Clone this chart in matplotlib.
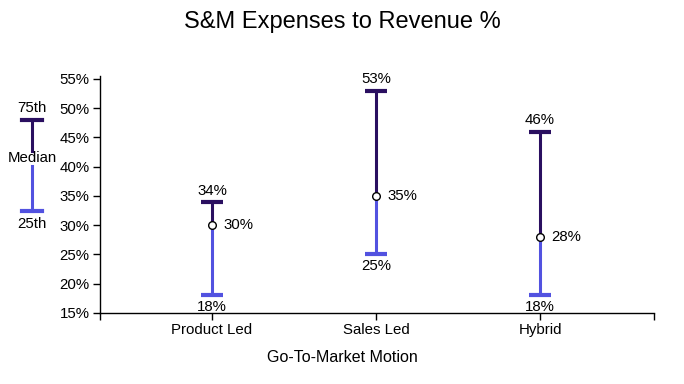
import matplotlib.pyplot as plt
from matplotlib.lines import Line2D

plt.rcParams['font.family'] = ['Liberation Sans', 'DejaVu Sans']

# data
categories = ["Product Led", "Sales Led", "Hybrid"]
p25 = [18, 25, 18]
median = [30, 35, 28]
p75 = [34, 53, 46]
y_ticks = [15, 20, 25, 30, 35, 40, 45, 50, 55]

dark = "#2a0f60"
blue = "#5252e0"
fs = 10.8

fig = plt.figure(figsize=(6.84, 3.84), dpi=100)
ax = fig.add_axes([100 / 684, 1 - 313 / 384, 554 / 684, 237 / 384])

x = list(range(len(categories)))
cap = 0.065
for i in x:
    # lower half (25th -> median) and upper half (median -> 75th)
    ax.plot([i, i], [p25[i], median[i]], color=blue, lw=2.2, solid_capstyle="butt", zorder=2)
    ax.plot([i, i], [median[i], p75[i]], color=dark, lw=2.2, solid_capstyle="butt", zorder=2)
    ax.plot([i - cap, i + cap], [p25[i], p25[i]], color=blue, lw=3, solid_capstyle="butt", zorder=3)
    ax.plot([i - cap, i + cap], [p75[i], p75[i]], color=dark, lw=3, solid_capstyle="butt", zorder=3)
    ax.plot(i, median[i], "o", ms=5.5, mfc="white", mec="black", mew=1, zorder=4)
    ax.annotate(f"{p75[i]}%", (i, p75[i]), xytext=(0, 3), textcoords="offset points",
                ha="center", va="bottom", fontsize=fs)
    ax.annotate(f"{p25[i]}%", (i, p25[i]), xytext=(0, -3), textcoords="offset points",
                ha="center", va="top", fontsize=fs)
    ax.annotate(f"{median[i]}%", (i, median[i]), xytext=(8, 0), textcoords="offset points",
                ha="left", va="center", fontsize=fs)

ax.set_xlim(-0.683, 2.695)
ax.set_ylim(15, 55.5)
ax.set_xticks([-0.683] + x + [2.695])
ax.set_xticklabels([""] + categories + [""])
ax.set_yticks(y_ticks)
ax.set_yticklabels([f"{v}%" for v in y_ticks])
ax.tick_params(labelsize=fs, length=5, width=1, colors="black", pad=2.5)
for s in ["top", "right"]:
    ax.spines[s].set_visible(False)
for s in ["left", "bottom"]:
    ax.spines[s].set_color("black")
    ax.spines[s].set_linewidth(1)

fig.text(342 / 684, 1 - 357 / 384, "Go-To-Market Motion", ha="center", va="center", fontsize=11.5)
fig.text(0.5, 1 - 22 / 384, "S&M Expenses to Revenue %", ha="center", va="center", fontsize=17)

# legend key on the left, figure pixel coords
def px(xp, yp):
    return xp / 684, 1 - yp / 384

lx = 32
fig.add_artist(Line2D(*zip(px(lx, 120), px(lx, 151)), color=dark, lw=2.2))
fig.add_artist(Line2D(*zip(px(lx - 10, 120), px(lx + 10, 120)), color=dark, lw=3))
fig.add_artist(Line2D(*zip(px(lx, 166), px(lx, 211)), color=blue, lw=2.2))
fig.add_artist(Line2D(*zip(px(lx - 10, 211), px(lx + 10, 211)), color=blue, lw=3))
fig.text(*px(lx, 108), "75th", ha="center", va="center", fontsize=fs)
fig.text(*px(lx, 158), "Median", ha="center", va="center", fontsize=fs)
fig.text(*px(lx, 224), "25th", ha="center", va="center", fontsize=fs)

fig.savefig("out.png", dpi=100)
